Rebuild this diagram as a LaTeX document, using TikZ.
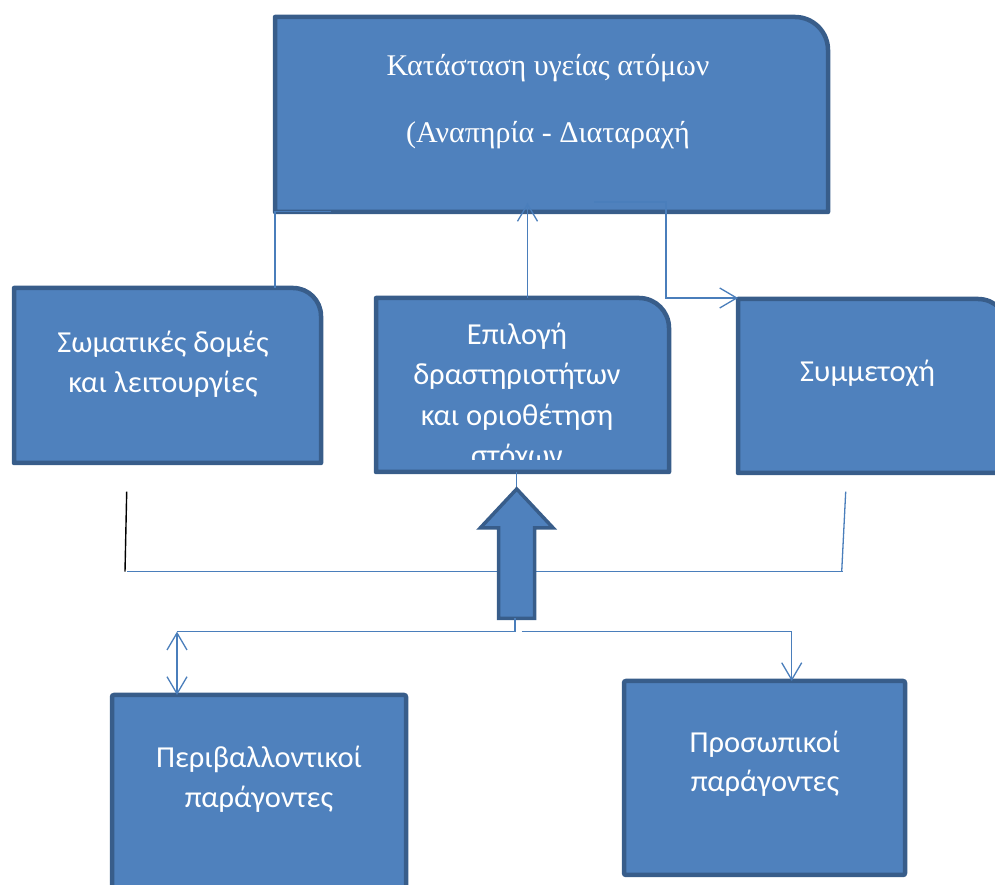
\documentclass[tikz,border=0pt]{standalone}
\usepackage{fontspec}
\setmainfont{Liberation Serif}
\newfontfamily\calfont{Carlito}
\usetikzlibrary{arrows.meta,calc}
\definecolor{boxfill}{HTML}{4F81BD}
\definecolor{boxline}{HTML}{385D8A}
\definecolor{connc}{HTML}{4A7EBB}
\newcommand{\mycornerbox}[2]{%
  \path[boxsty] (#1.south west) -- (#1.north west) -- ($(#1.north east)+(-#2,0)$)
    arc[start angle=90,end angle=0,radius=#2] -- (#1.south east) -- cycle;}
\begin{document}
\begin{tikzpicture}[x=1pt,y=1pt,
  boxsty/.style={fill=boxfill,draw=boxline,line width=4.5pt,line join=round},
  holder/.style={inner sep=0pt,outer sep=0pt,draw=none},
  sqbox/.style={fill=boxfill,draw=boxline,line width=4.5pt,rounded corners=2pt,inner sep=0pt,outer sep=0pt},
  cal/.style={text=white,align=center,font=\calfont\fontsize{30.5}{39.5}\selectfont,inner sep=0pt},
  calm/.style={text=white,align=center,font=\calfont\fontsize{30.5}{40.5}\selectfont,inner sep=0pt},
  serif/.style={text=white,align=center,font=\fontsize{30}{67}\selectfont,inner sep=0pt},
  conn/.style={draw=connc,line width=1.3pt},
  blk/.style={draw=black,line width=1.4pt},
  barb/.tip={Straight Barb[length=17pt,width=20pt]},
  bigarrow/.style={fill=boxfill,draw=boxline,line width=3.5pt,line join=miter}
]
\useasboundingbox (0,0) rectangle (995,885);
\clip (0,0) rectangle (995,885);

% box holders
\node[holder,minimum width=553pt,minimum height=195pt] (T) at (551.5,770.5) {};
\node[holder,minimum width=307pt,minimum height=175pt] (L) at (167.5,509.5) {};
\node[holder,minimum width=293pt,minimum height=174pt] (M) at (522.5,500) {};
\node[holder,minimum width=270pt,minimum height=174pt] (R) at (873,499) {};

\mycornerbox{T}{33}
\mycornerbox{L}{28}
\mycornerbox{M}{30}
\mycornerbox{R}{30}

\node[sqbox,minimum width=294pt,minimum height=205pt] (BL) at (259,87.5) {};
\node[sqbox,minimum width=281pt,minimum height=194pt] (BR) at (764.5,107) {};

% texts
\node[serif] (tT) at (548,783.5) {Κατάσταση υγείας ατόμων\\(Αναπηρία - Διαταραχή};
\node[cal] (tL) at (163,521) {Σωματικές δομές\\και λειτουργίες};
\begin{scope}
  \clip ($(M.south west)+(0,12)$) rectangle (M.north east);
  \node[calm] (tM) at (517,488) {Επιλογή\\δραστηριοτήτων\\και οριοθέτηση\\στόχων};
\end{scope}
\node[cal] (tR) at (867.5,512) {Συμμετοχή};
\node[cal] (tBL) at (259,106) {Περιβαλλοντικοί\\παράγοντες};
\node[cal] (tBR) at (765,121.5) {Προσωπικοί\\παράγοντες};

% top connectors
\draw[conn] ($(T.south west)+(56,0.3)$) -- ($(T.south west)+(0,0.3)$) -- (T.south west |- L.north);
\coordinate (upT) at (527.5,682);
\draw[conn,-barb] (upT |- M.north) -- (upT);
\coordinate (rs) at (594,683);
\coordinate (rc) at (666,683);
\draw[conn,-barb] (rs) -- (rc) |- ($(R.north west)+(0,1)$);

% middle connectors
\coordinate (blk1) at (126.7,393.3);
\coordinate (blk2) at (125,313.3);
\coordinate (hr) at (843,313.3);
\coordinate (sr1) at (845.7,393.3);
\coordinate (sr2) at (841.7,313.3);
\draw[conn] ($(blk2)+(2,0)$) -- (hr);
\draw[conn] (sr1) -- (sr2);
\draw[blk] (blk1) -- (blk2);

% block arrow
\coordinate (tipA) at (516.7,396);
\draw[conn] (M.south -| tipA) -- (tipA);
\path[bigarrow] (tipA) -- ++(36.5,-39) -- ++(-18.5,0) -- ++(0,-90.5) -- ++(-36,0)
  -- ++(0,90.5) -- ++(-18.5,0) -- cycle;

% bottom connectors
\coordinate (ab) at (515,266.5);
\coordinate (hj) at (515,253.3);
\coordinate (hl) at (177,253.3);
\draw[conn] (ab) -- (hj) -- (hl);
\draw[conn,barb-barb] (hl) -- (hl |- BL.north);
\coordinate (hs) at (521.7,253.3);
\coordinate (he) at (791.7,253.3);
\draw[conn,-barb] (hs) -- (he) -- (he |- BR.north);
\end{tikzpicture}
\end{document}
